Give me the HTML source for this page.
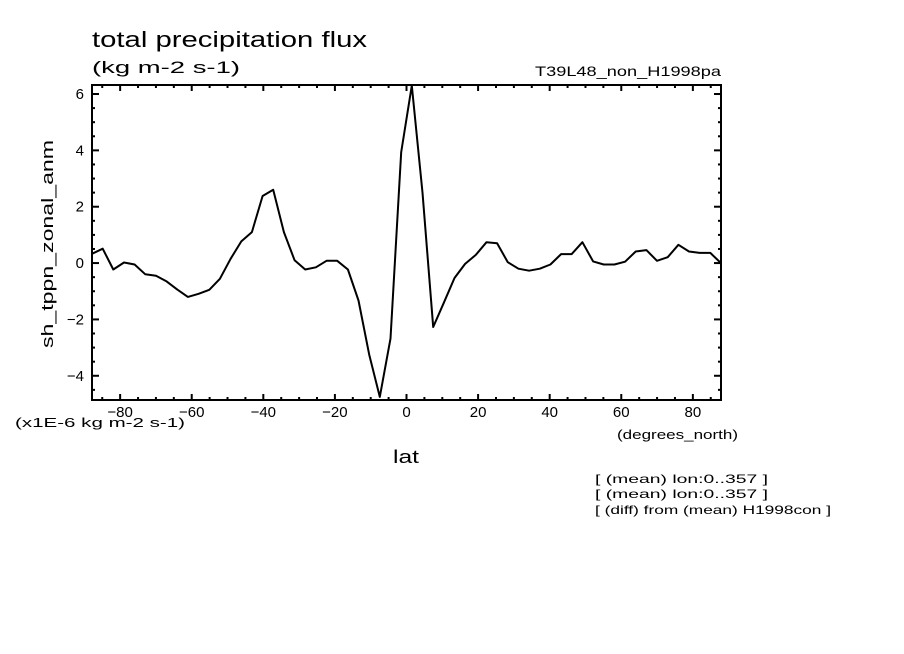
<!DOCTYPE html>
<html><head><meta charset="utf-8"><style>
html,body{margin:0;padding:0;background:#fff;}
svg{display:block;font-family:"Liberation Sans","DejaVu Sans",sans-serif;}
</style></head><body>
<svg id="chart" width="904" height="654" viewBox="0 0 904 654">
<text x="92" y="47" font-size="22" textLength="275" lengthAdjust="spacingAndGlyphs">total precipitation flux</text>
<text x="92" y="73" font-size="17" textLength="148" lengthAdjust="spacingAndGlyphs">(kg m-2 s-1)</text>
<text x="535" y="76" font-size="14" textLength="186" lengthAdjust="spacingAndGlyphs">T39L48_non_H1998pa</text>
<text transform="translate(53,348) rotate(-90)" font-size="17" textLength="208" lengthAdjust="spacingAndGlyphs">sh_tppn_zonal_anm</text>
<text x="15" y="427" font-size="13" textLength="170" lengthAdjust="spacingAndGlyphs">(x1E-6 kg m-2 s-1)</text>
<text x="617" y="439" font-size="13" textLength="121" lengthAdjust="spacingAndGlyphs">(degrees_north)</text>
<text x="393" y="463" font-size="18" textLength="26" lengthAdjust="spacingAndGlyphs">lat</text>
<text x="595" y="483" font-size="12" textLength="173" lengthAdjust="spacingAndGlyphs">[ (mean) lon:0..357 ]</text>
<text x="595" y="498" font-size="12" textLength="173" lengthAdjust="spacingAndGlyphs">[ (mean) lon:0..357 ]</text>
<text x="595" y="514" font-size="12" textLength="236" lengthAdjust="spacingAndGlyphs">[ (diff) from (mean) H1998con ]</text>
<g id="axes"></g>
<path id="series" fill="none" stroke="#000" stroke-width="2" stroke-linejoin="round"></path>
<rect x="92" y="85" width="629" height="315" fill="none" stroke="#000" stroke-width="2"/>
</svg>
<script>
const values = [0.33,0.51,-0.23,0.02,-0.05,-0.40,-0.45,-0.65,-0.94,-1.20,-1.09,-0.95,-0.56,0.15,0.77,1.10,2.38,2.60,1.10,0.10,-0.23,-0.15,0.08,0.08,-0.23,-1.33,-3.25,-4.75,-2.68,3.94,6.30,2.50,-2.27,-1.41,-0.53,-0.03,0.29,0.74,0.70,0.03,-0.20,-0.27,-0.20,-0.05,0.32,0.32,0.74,0.06,-0.05,-0.05,0.05,0.41,0.46,0.08,0.21,0.65,0.41,0.36,0.36,0.00];
const latMin = -87.86, latMax = 87.86;
const xTicks = [-80,-60,-40,-20,0,20,40,60,80];
const xTickLabels = ["-80","-60","-40","-20","0","20","40","60","80"];
const yTicks = [-4,-2,0,2,4,6];
const yTickLabels = ["-4","-2","0","2","4","6"];
const yMin = -4.86, yMax = 6.32;
const X0 = 92, X1 = 721, Y0 = 400, Y1 = 85;
function xs(v){return X0 + (v - latMin) / (latMax - latMin) * (X1 - X0);}
function ys(v){return Y0 - (v - yMin) / (yMax - yMin) * (Y0 - Y1);}
const NS = "http://www.w3.org/2000/svg";
const g = document.getElementById("axes");
function line(x1,y1,x2,y2,name){
  const l = document.createElementNS(NS,"line");
  l.setAttribute("x1",x1);l.setAttribute("y1",y1);l.setAttribute("x2",x2);l.setAttribute("y2",y2);
  l.setAttribute("stroke","#000");l.setAttribute("stroke-width","2");
  
  
  g.appendChild(l);
}
function text(x,y,s,anchor,name){
  const t = document.createElementNS(NS,"text");
  t.setAttribute("x",x);t.setAttribute("y",y);t.setAttribute("font-size","15");
  t.setAttribute("text-anchor",anchor);
  t.textContent = s.replace("-","\u2212");
  
  
  g.appendChild(t);
}
for (let v = -85; v <= 85; v += 5) {
  const x = xs(v), len = (v % 20 === 0) ? 6 : 3;
  line(x, Y0, x, Y0 - len, "x-tick");
  line(x, Y1, x, Y1 + len, "x-tick-top");
}
for (let v = -4.5; v <= 6.01; v += 0.5) {
  const y = ys(v), len = (Math.abs(v % 2) < 1e-6) ? 7 : 3;
  line(X0, y, X0 + len, y, "y-tick");
  line(X1, y, X1 - len, y, "y-tick-right");
}
xTicks.forEach((v,i)=>text(xs(v), 417, xTickLabels[i], "middle", "x-tick-label"));
yTicks.forEach((v,i)=>text(X0 - 8, ys(v) + 5, yTickLabels[i], "end", "y-tick-label"));
const n = values.length;
let d = "";
values.forEach((v,i)=>{
  const lat = latMin + i * (latMax - latMin) / (n - 1);
  const yy = Math.max(Y1, Math.min(Y0, ys(v)));
  d += (i ? "L" : "M") + xs(lat).toFixed(1) + "," + yy.toFixed(1);
});
document.getElementById("series").setAttribute("d", d);
</script>
</body></html>
